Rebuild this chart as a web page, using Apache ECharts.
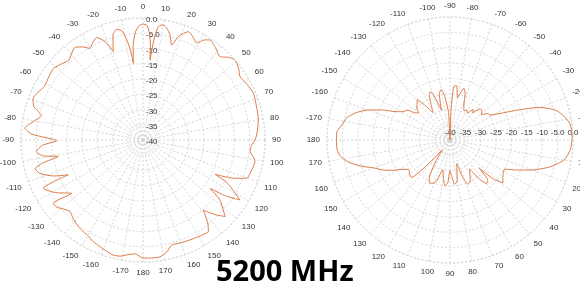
<!DOCTYPE html>
<html>
<head>
<meta charset="utf-8">
<script src="https://cdn.jsdelivr.net/npm/echarts@6/dist/echarts.min.js"></script>
<style>
  html, body { margin: 0; padding: 0; background: #fff; }
  #chart { width: 580px; height: 288px; }
</style>
</head>
<body>
<div id="chart"></div>
<script>
// Left pattern: angle (deg, 0 = top, clockwise) and gain (dB), in path order
const leftAngles = [
    0, 2, 3.5, 4.5, 5, 6, 7, 8, 10, 12, 14.5, 16.8, 19, 22.7, 26, 29, 31.5, 33.8, 38, 42.7,
    46, 49, 53, 56.9, 62, 67, 73.7, 80, 85, 87.5, 90, 93, 96.2, 99, 101, 105, 110.3, 113,
    115.5, 117, 121.7, 124, 125.8, 128, 133, 136, 139.3, 142, 144.5, 149, 154.8, 160, 164.7,
    168, 171.7, 176, 180,
    -176, -173, -169, -165.5, -162, -158, -153.9, -150, -145.7, -142, -138, -134.5, -131,
    -128, -125.2, -126.8, -121, -115.8, -115, -112, -108, -105, -103, -101, -99, -96.3, -93,
    -90.5, -87, -84.3, -80, -76.5, -73, -69.5, -65.5, -61.5, -56, -51.4, -47, -43, -39.5,
    -36.3, -33, -30.3, -27.5, -24.3, -21, -18.6, -16, -13.4, -11, -9.5, -8, -7.2, -6, -4, -2, 0
];
const leftGain = [
    -2.0, -2.4, -5, -9, -13.7, -8, -4, -2.2, -1.7, -2.5, -4.5, -7.5, -4, -1.5, -2.5, -3.7, -1.5, -0.5, -1.5, -2.8,
    -1, 0, -0.8, -2.0, -1.3, -0.7, -1.2, -1.6, -2.3, -2.7, -3.3, -4.4, -4.7, -3.2, -2.6, -3, -3.8, -8,
    -13.8, -9, -2.6, -7, -12.9, -8, -3.2, -6, -9.7, -5.5, -3.1, -3.4, -3.8, -4.1, -4.3,
    -2.5, -1.3, -1.2, -1.3,
    -2.6, -2.2, -1.2, -1.0, -1.6, -2.3, -2.9, -3.8, -4.3, -4.8, -5.6, -6.5, -5.5,
    -4.2, -4.0, -10.8, -6.5, -3.7, -13, -8.5, -4.5, -3.4, -6, -11.7, -6.8, -4.8, -7,
    -11.7, -3.5, -1.1, -3.8, -5.8, -2.6, -1.5, -2.2, -3.2, -2.8, -2.4, -3.4, -4.3, -3.2,
    -2.3, -3.6, -5.2, -4.2, -3.1, -5.5, -9.4, -4.2, -2.7, -3.5, -6, -10, -14.7, -9, -4.5, -2.5, -2.0
];

// Right pattern: angle (deg, 0 = right, clockwise) and gain (dB)
const rightAngles = [
    0, 5, 10, 15, 20, 24, 28, 32, 36, 39, 42, 44, 47, 50, 53, 56, 60, 64, 68, 71, 74, 77,
    80, 84, 87, 90, 93, 96, 100, 104, 108, 112, 116, 120, 124, 128, 132, 136, 140, 144,
    148, 152, 156, 160, 164, 168, 172, 176, 180,
    -176, -172, -168, -164, -160, -156, -152, -148, -145, -142, -139, -136, -132, -129,
    -126, -122, -118, -115, -112, -109, -106, -103, -100, -97, -93, -90, -88, -86, -83,
    -80, -77, -75, -72, -68, -64, -61, -57, -53, -50, -46, -43, -39, -35, -32, -28, -24,
    -20, -16, -12, -8, -4, 0
];
const rightGain = [
    -0.3, -0.8, -2.4, -6.3, -11.5, -16, -19.8, -19.6, -18.8, -17.8, -21, -27, -22, -21.5, -24, -28.7, -27, -25, -24.5, -27, -32, -30,
    -26.5, -25.5, -28, -30, -26, -25, -27.5, -30, -26, -24.8, -24.5, -27, -32, -36, -30, -22.5, -22.8, -23.5,
    -22, -19, -16, -13.5, -9.5, -6, -3.8, -3.1, -3.1,
    -3.1, -4.5, -5.6, -8, -11.5, -16, -20.4, -22.5, -23, -25.7, -26.5, -25, -24, -23.1,
    -26, -29.5, -27, -24, -23, -26, -30, -24.5, -23.4, -25.5, -31, -40, -30, -22.5, -22.2,
    -26, -24, -22.6, -24, -28, -29.5, -28.8, -29.5, -27.5, -28.5, -26, -25.8, -27, -25, -24.7, -21.6, -16.2,
    -9, -4.5, -2.2, -0.7, -0.3, -0.3
];

const radiusMin = -40;
const radiusMax = 0;

const toPolar = (angles, gains) =>
    angles.map((a, i) => [gains[i], (a + 360) % 360 === 0 && i > 0 ? 360 : (a + 360) % 360]);

const labelFont = { color: '#333', fontSize: 8, fontFamily: 'Liberation Sans Narrow, Liberation Sans, sans-serif' };
const gridLine = { color: '#d6d6d6', type: [2, 2], width: 1 };

const angleLabel = v => {
    if (v >= 360) return '';
    return String(v > 180 ? v - 360 : v);
};
const radiusLabel = v => (v === 0 ? '0.0' : v === -5 ? '-5.0' : String(v));

const makeAngleAxis = (idx, start) => ({
    polarIndex: idx,
    type: 'value',
    min: 0,
    max: 360,
    interval: 10,
    startAngle: start,
    clockwise: true,
    axisLine: { show: true, lineStyle: gridLine },
    axisTick: { show: false },
    axisLabel: Object.assign({ margin: 7, formatter: angleLabel }, labelFont),
    splitLine: { show: true, lineStyle: gridLine }
});

const makeRadiusAxis = (idx, label) => ({
    polarIndex: idx,
    type: 'value',
    min: radiusMin,
    max: radiusMax,
    interval: 5,
    axisLine: { show: false },
    axisTick: { show: false },
    axisLabel: Object.assign({ formatter: radiusLabel }, labelFont, label),
    splitLine: { show: true, lineStyle: gridLine }
});

const chart = echarts.init(document.getElementById('chart'), null, { renderer: 'canvas' });

chart.setOption({
    animation: false,
    backgroundColor: '#fff',
    title: {
        text: '5200 MHz',
        left: 211,
        top: 253,
        textStyle: { fontSize: 29, fontWeight: 'bold', color: '#000', fontFamily: 'Open Sans' }
    },
    polar: [
        { center: [143, 140], radius: 122 },
        { center: [450, 140], radius: 123 }
    ],
    angleAxis: [makeAngleAxis(0, 90), makeAngleAxis(1, 0)],
    radiusAxis: [
        makeRadiusAxis(0, { margin: -3, align: 'left', verticalAlign: 'top', padding: [-2, 0, 0, 0] }),
        makeRadiusAxis(1, { margin: 3 })
    ],
    series: [
        {
            type: 'line',
            coordinateSystem: 'polar',
            polarIndex: 0,
            data: toPolar(leftAngles, leftGain),
            showSymbol: false,
            smooth: 0.2,
            lineStyle: { color: '#dc7a45', width: 1 }
        },
        {
            type: 'line',
            coordinateSystem: 'polar',
            polarIndex: 1,
            data: toPolar(rightAngles, rightGain),
            showSymbol: false,
            smooth: 0.2,
            lineStyle: { color: '#dc7a45', width: 1 }
        }
    ]
});
</script>
</body>
</html>
